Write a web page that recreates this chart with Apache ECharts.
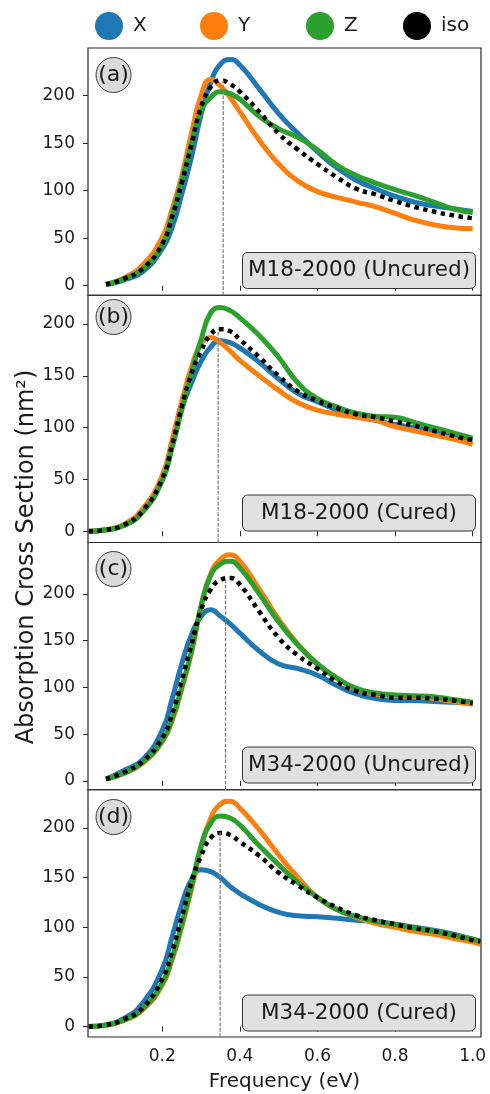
<!DOCTYPE html>
<html>
<head>
<meta charset="utf-8">
<script src="https://cdn.jsdelivr.net/npm/echarts@6/dist/echarts.min.js"></script>
<style>
html, body { margin: 0; padding: 0; background: #fff; }
#chart { width: 490px; height: 1094px; }
</style>
</head>
<body>
<div id="chart"></div>
<script>
// frequency grids (eV): uncured runs start a bit later than cured ones
var freqUncured = [0.055, 0.1, 0.15, 0.2, 0.225, 0.25, 0.275, 0.3, 0.325, 0.35, 0.375, 0.4, 0.45, 0.5, 0.55, 0.6, 0.65, 0.7, 0.75, 0.8, 0.85, 0.9, 0.95, 1.0];
var freqCured   = [0.01, 0.05, 0.1, 0.15, 0.2, 0.225, 0.25, 0.275, 0.3, 0.325, 0.35, 0.375, 0.4, 0.45, 0.5, 0.55, 0.6, 0.65, 0.7, 0.75, 0.8, 0.85, 0.9, 0.95, 1.0, 1.02];

// (a) M18-2000 uncured
var m18UncuredX   = [1, 6, 15, 39, 61, 96, 135, 180, 214, 233, 238, 232, 207, 181, 160, 141, 124, 111, 102, 94, 88, 84, 81, 78];
var m18UncuredY   = [1.5, 8, 22, 51, 80, 115, 160, 200, 217, 210, 198, 183, 153, 128, 110, 99, 93, 88, 83, 76, 69, 64, 61, 60];
var m18UncuredZ   = [1.5, 7, 18, 43, 73, 110, 149, 184, 198, 204, 202, 196, 178, 165, 156, 143, 127, 116, 108, 101, 95, 88, 81, 77];
var m18UncuredIso = [1.5, 7, 18, 44, 72, 108, 148, 188, 209, 216, 212, 204, 183, 160, 143, 128, 114, 102, 96, 89, 83, 78, 74, 71];

// (b) M18-2000 cured
var m18CuredX   = [0, 1.2, 5.5, 19, 50, 82, 118, 143, 164, 178, 184, 182, 177, 163, 147, 133, 125, 117, 111, 107, 103, 100, 96, 92, 88, null];
var m18CuredY   = [0, 1.3, 6.5, 22, 54, 88, 125, 158, 181, 187, 182, 174, 165, 150, 136, 124, 117, 113, 110, 107, 101, 97, 93, 89, 84, null];
var m18CuredZ   = [0, 1.2, 5.5, 19, 49, 80, 117, 152, 185, 211, 216, 213, 206, 189, 168, 143, 128, 120, 114, 111, 110, 105, 100, 95, 90, null];
var m18CuredIso = [0, 1.2, 6, 20, 51, 83, 120, 152, 174, 190, 195, 193, 185, 168, 150, 135, 126, 119, 113, 110, 106, 102, 97, 92, 88, null];

// (c) M34-2000 uncured
var m34UncuredX   = [2, 11, 23, 54, 87, 125, 156, 176, 183, 176, 168, 158, 139, 125, 120, 113, 102, 93, 88, 86, 86, 85, 84, 83];
var m34UncuredY   = [2, 8, 19, 42, 64, 98, 137, 187, 222, 237, 242, 235, 205, 173, 146, 125, 110, 98, 93, 91, 90, 88, 85, 82];
var m34UncuredZ   = [2, 8, 20, 43, 66, 100, 138, 187, 220, 232, 235, 228, 200, 170, 145, 125, 110, 99, 94, 92, 91, 90, 87, 84];
var m34UncuredIso = [2, 9, 21, 46, 71, 107, 145, 183, 205, 215, 217, 210, 181, 153, 134, 120, 106, 96, 92, 89, 89, 88, 86, 83];

// (d) M34-2000 cured
var m34CuredX   = [0, 1.5, 8, 24, 58, 90, 123, 148, 158, 156, 150, 141, 134, 123, 115, 111.5, 110.5, 109, 107, 106, 103, 100, 97, 93, 88, 86];
var m34CuredY   = [0, 1.2, 6, 17, 42, 67, 100, 138, 180, 210, 224, 227, 220, 198, 173, 150, 130, 118, 110, 104, 100, 96, 93, 89, 85, 83];
var m34CuredZ   = [0, 1.2, 6.5, 18, 44, 69, 103, 141, 182, 205, 212, 210, 203, 182, 163, 145, 130, 118, 111, 106, 103, 99, 96, 92, 88, 86];
var m34CuredIso = [0, 1.3, 7, 19, 48, 75, 110, 145, 172, 190, 195, 193, 186, 172, 155, 142, 130, 120, 112, 107, 103, 99, 96, 92, 87, 86];

// iso peak markers (dashed vertical lines)
var peakFreq  = [0.357, 0.344, 0.363, 0.349];
var peakValue = [216, 195, 217, 196];

var xTicks = [0.2, 0.4, 0.6, 0.8, 1.0];
var yTicks = [0, 50, 100, 150, 200];
var seriesNames = ['X', 'Y', 'Z', 'iso'];
var panelLetters = ['(a)', '(b)', '(c)', '(d)'];
var sampleNames = ['M18-2000 (Uncured)', 'M18-2000 (Cured)', 'M34-2000 (Uncured)', 'M34-2000 (Cured)'];

var FONT = 'DejaVu Sans';
var TXT = '#1a1a1a';
var colors = ['#1f77b4', '#ff7f0e', '#2ca02c', '#000000'];

var gridTop = [48, 295.25, 542.5, 789.75];
var gridH = 247.25;
var yMin = [-10, -10.8, -9.5, -10.5];
var yMax = [250, 227.8, 255, 238.5];
var letterY = [75, 317, 569, 817];
var boxTop = [252.5, 495, 747, 995];
var legendLeft = [95, 200, 306, 403];

var panels = [
    {freq: freqUncured, vals: [m18UncuredX, m18UncuredY, m18UncuredZ, m18UncuredIso]},
    {freq: freqCured,   vals: [m18CuredX, m18CuredY, m18CuredZ, m18CuredIso]},
    {freq: freqUncured, vals: [m34UncuredX, m34UncuredY, m34UncuredZ, m34UncuredIso]},
    {freq: freqCured,   vals: [m34CuredX, m34CuredY, m34CuredZ, m34CuredIso]}
];

function zip(xs, ys) {
    return xs.map(function (x, i) { return [x, ys[i]]; });
}

var grids = [], xAxes = [], yAxes = [], series = [], graphics = [];

panels.forEach(function (p, i) {
    var last = i === panels.length - 1;
    grids.push({
        left: 88, width: 393, top: gridTop[i], height: gridH,
        show: true, borderColor: '#262626', borderWidth: 1.2, backgroundColor: 'transparent'
    });
    xAxes.push({
        type: 'value', gridIndex: i, min: 0.0085, max: 1.0215,
        splitLine: {show: false},
        axisLine: {show: false},
        axisTick: {show: true, length: 5, customValues: xTicks, lineStyle: {color: '#262626', width: 1}},
        axisLabel: {
            show: last, customValues: xTicks, margin: 11,
            fontSize: 17, fontFamily: FONT, color: TXT,
            formatter: function (v) { return v.toFixed(1); }
        },
        name: last ? 'Frequency (eV)' : '',
        nameLocation: 'middle', nameGap: 35,
        nameTextStyle: {fontSize: 20, fontFamily: FONT, color: TXT}
    });
    yAxes.push({
        type: 'value', gridIndex: i, min: yMin[i], max: yMax[i],
        splitLine: {show: false},
        axisLine: {show: false},
        axisTick: {show: true, length: 5, customValues: yTicks, lineStyle: {color: '#262626', width: 1}},
        axisLabel: {customValues: yTicks, margin: 13, fontSize: 17, fontFamily: FONT, color: TXT}
    });

    p.vals.forEach(function (vals, k) {
        var iso = k === 3;
        series.push({
            type: 'line', name: seriesNames[k],
            xAxisIndex: i, yAxisIndex: i,
            data: zip(p.freq, vals),
            showSymbol: false, smooth: 0.5,
            color: colors[k],
            lineStyle: iso
                ? {width: 4.5, color: '#000', type: [4.5, 4.5], cap: 'butt'}
                : {width: 5, color: colors[k]},
            emphasis: {disabled: true},
            silent: true
        });
    });

    series.push({
        type: 'line', name: 'peak' + i,
        xAxisIndex: i, yAxisIndex: i,
        data: [[peakFreq[i], yMin[i]], [peakFreq[i], peakValue[i]]],
        showSymbol: false,
        lineStyle: {width: 1.3, color: '#808080', type: [3.7, 1.6]},
        emphasis: {disabled: true},
        silent: true, z: 3
    });

    graphics.push({
        type: 'circle', z: 100,
        shape: {cx: 113.5, cy: letterY[i], r: 17.5},
        style: {fill: '#dadada', stroke: '#3a3a3a', lineWidth: 1}
    });
    graphics.push({
        type: 'text', z: 101, x: 113.5, y: letterY[i],
        style: {text: panelLetters[i], fontSize: 22, fontFamily: FONT, fill: TXT, align: 'center', verticalAlign: 'middle'}
    });
    graphics.push({
        type: 'rect', z: 100,
        shape: {x: 242.5, y: boxTop[i], width: 233, height: 36, r: 5},
        style: {fill: '#e0e0e0', stroke: '#333', lineWidth: 1}
    });
    graphics.push({
        type: 'text', z: 101, x: 359, y: boxTop[i] + 18,
        style: {text: sampleNames[i], fontSize: 21.5, fontFamily: FONT, fill: TXT, align: 'center', verticalAlign: 'middle'}
    });
});

graphics.push({
    type: 'text', z: 101, x: 27, y: 557, rotation: Math.PI / 2,
    style: {text: 'Absorption Cross Section (nm²)', fontSize: 24, fontFamily: FONT, fill: TXT, align: 'center', verticalAlign: 'middle'}
});

var legends = seriesNames.map(function (name, k) {
    return {
        data: [{name: name}],
        left: legendLeft[k], top: 12, padding: 0,
        icon: 'circle', itemWidth: 28, itemHeight: 28,
        itemStyle: {color: colors[k], borderWidth: 0},
        selectedMode: false,
        textStyle: {fontSize: 20, fontFamily: FONT, color: TXT, padding: [0, 0, 0, 5]}
    };
});

var chart = echarts.init(document.getElementById('chart'));
chart.setOption({
    animation: false,
    backgroundColor: '#fff',
    legend: legends,
    grid: grids,
    xAxis: xAxes,
    yAxis: yAxes,
    series: series,
    graphic: graphics
});
</script>
</body>
</html>
